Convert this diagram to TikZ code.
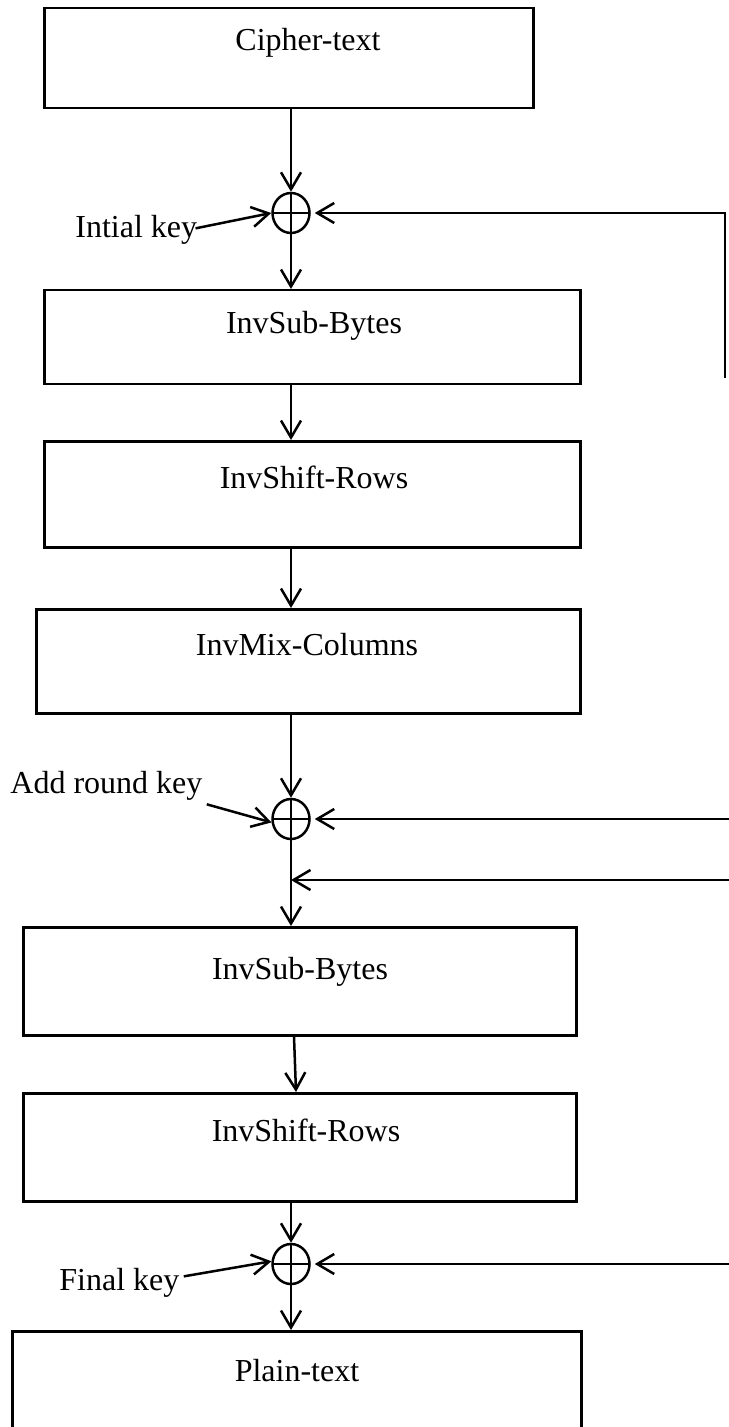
\documentclass[tikz,border=0pt]{standalone}
\usepackage{fontspec}
\setmainfont{Liberation Serif}
\usetikzlibrary{arrows.meta,shapes.geometric}
\begin{document}
\begin{tikzpicture}[x=0.5pt,y=-0.5pt,
  font=\fontsize{16}{19}\selectfont,
  stage/.style={draw,line width=1.25pt,rectangle,inner sep=0pt,anchor=north west},
  lbl/.style={inner sep=0pt,anchor=base},
  keylbl/.style={inner sep=0pt,anchor=base west},
  xorop/.style={draw,line width=1.25pt,ellipse,inner sep=0pt,minimum width=18.5pt,minimum height=20pt,
    path picture={\draw[line width=1.25pt] (path picture bounding box.north) -- (path picture bounding box.south)
      (path picture bounding box.west) -- (path picture bounding box.east);}},
  arr/.style={-{Straight Barb[length=8.5pt,width=10pt]},line width=1.25pt}
]
\useasboundingbox (0,0) rectangle (728,1427);

% boxes
\node[stage,minimum width=244.5pt,minimum height=50pt] (b1) at (43,7) {};
\node[stage,minimum width=268pt,minimum height=47pt] (b2) at (43,289) {};
\node[stage,minimum width=268pt,minimum height=53pt] (b3) at (43,440) {};
\node[stage,minimum width=272pt,minimum height=52pt] (b4) at (35,608) {};
\node[stage,minimum width=276.5pt,minimum height=54pt] (b5) at (22,926) {};
\node[stage,minimum width=276.5pt,minimum height=54pt] (b6) at (22,1092) {};
\node[stage,minimum width=284.5pt,minimum height=70pt] (b7) at (11,1330) {};

% box texts
\node[lbl] (t1) at (308,51) {Cipher-text};
\node[lbl] (t2) at (314,334) {InvSub-Bytes};
\node[lbl] (t3) at (314,488) {InvShift-Rows};
\node[lbl] (t4) at (307,655) {InvMix-Columns};
\node[lbl] (t5) at (300,979) {InvSub-Bytes};
\node[lbl] (t6) at (306,1141) {InvShift-Rows};
\node[lbl] (t7) at (297,1381) {Plain-text};

% xor nodes
\node[xorop] (x1) at (291,213) {};
\node[xorop] (x2) at (291,819) {};
\node[xorop] (x3) at (291,1264) {};

% key labels
\node[keylbl] (k1) at (75,238) {Intial key};
\node[keylbl] (k2) at (10,793) {Add round key};
\node[keylbl] (k3) at (59,1290) {Final key};

% feedback coordinates
\coordinate (f1) at (725,378);
\coordinate (f2) at (730,819);
\coordinate (f3) at (730,880);
\coordinate (f4) at (730,1264);

% main flow
\draw[arr] (b1.south -| x1.north) -- (x1.north);
\draw[arr] (x1.south) -- (x1.south |- b2.north);
\draw[arr] (b2.south -| x1.south) -- (b3.north -| x1.south);
\draw[arr] (b3.south -| x1.south) -- (b4.north -| x1.south);
\draw[arr] (b4.south -| x2.north) -- (x2.north);
\draw[arr] (x2.south) -- (x2.south |- b5.north);
\draw[arr] ([xshift=1.5pt]b5.south -| x2.south) -- ([xshift=2.5pt]b6.north -| x2.south);
\draw[arr] (b6.south -| x3.north) -- (x3.north);
\draw[arr] (x3.south) -- (x3.south |- b7.north);

% key arrows
\draw[arr] ([xshift=-1pt,yshift=1pt]k1.east) -- (x1.west);
\draw[arr] ([xshift=2pt,yshift=-2pt]k2.south east) -- (x2.190);
\draw[arr] ([xshift=2pt,yshift=3pt]k3.east) -- (x3.172);

% feedback arrows
\draw[arr,shorten >=2pt] (f1) |- (x1.east);
\draw[arr,shorten >=2pt] (f2) -- (x2.east);
\draw[arr] (f3) -- (x2.south |- f3);
\draw[arr,shorten >=2pt] (f4) -- (x3.east);
\end{tikzpicture}
\end{document}
